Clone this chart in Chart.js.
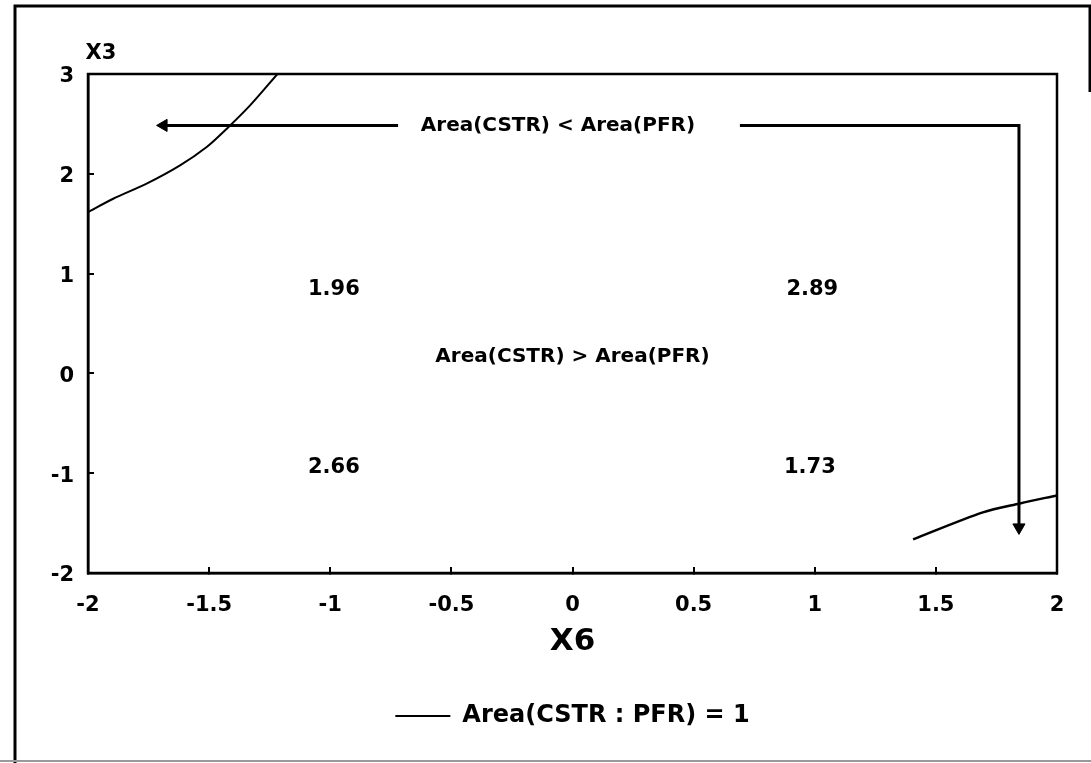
<!DOCTYPE html>
<html>
<head>
<meta charset="utf-8">
<title>Area(CSTR : PFR)</title>
<script src="https://cdn.jsdelivr.net/npm/chart.js@4.4.1/dist/chart.umd.min.js"></script>
<style>
	html, body { margin: 0; padding: 0; background: #fff; }
	canvas { display: block; }
</style>
</head>
<body>
<canvas id="chart" width="1091" height="763"></canvas>
<script>
// contour Area(CSTR : PFR) = 1, two branches
const curveAX = [-2, -1.896, -1.758, -1.62, -1.51, -1.427, -1.331, -1.218];
const curveAY = [1.616, 1.75, 1.901, 2.084, 2.268, 2.452, 2.685, 3.0];
const curveBX = [1.406, 1.694, 1.847, 2.0];
const curveBY = [-1.663, -1.393, -1.303, -1.222];

// annotation arrows
const arrowLeftX = [-0.72, -1.688];
const arrowLeftY = [2.485, 2.485];
const arrowRightX = [0.691, 1.843, 1.843];
const arrowRightY = [2.485, 2.485, -1.543];

// texts inside the plot
const noteText = ['Area(CSTR) < Area(PFR)', '1.96', '2.89', 'Area(CSTR) > Area(PFR)', '2.66', '1.73'];
const noteX = [-0.06, -0.985, 0.99, 0, -0.985, 0.98];
const noteY = [2.485, 0.842, 0.842, 0.17, -0.942, -0.942];
const noteSize = [20, 21, 21, 20, 21, 21];

const xTitle = 'X6';
const yTitle = 'X3';
const legendLabel = 'Area(CSTR : PFR) = 1';

const FONT = "'DejaVu Sans', 'Liberation Sans', sans-serif";

Chart.defaults.font.family = FONT;
Chart.defaults.font.weight = 'bold';
Chart.defaults.color = '#000';

function points(xs, ys) {
	return xs.map((x, i) => ({x: x, y: ys[i]}));
}

// page frame and white background
const framePlugin = {
	id: 'frame',
	beforeDraw(chart) {
		const ctx = chart.ctx;
		ctx.save();
		ctx.fillStyle = '#fff';
		ctx.fillRect(0, 0, chart.width, chart.height);
		ctx.strokeStyle = '#000';
		ctx.lineWidth = 3;
		ctx.beginPath();
		ctx.moveTo(15, chart.height);
		ctx.lineTo(15, 6);
		ctx.lineTo(1090, 6);
		ctx.lineTo(1090, 92);
		ctx.stroke();
		ctx.strokeStyle = '#999';
		ctx.lineWidth = 2;
		ctx.beginPath();
		ctx.moveTo(0, chart.height - 2);
		ctx.lineTo(chart.width, chart.height - 2);
		ctx.stroke();
		ctx.restore();
	},
};

// box round the plot, the notes and the y title
const notesPlugin = {
	id: 'notes',
	afterDatasetsDraw(chart) {
		const {ctx, chartArea} = chart;
		const xs = chart.scales.x;
		const ys = chart.scales.y;
		ctx.save();
		ctx.strokeStyle = '#000';
		ctx.lineWidth = 2.5;
		ctx.strokeRect(chartArea.left, chartArea.top, chartArea.right - chartArea.left, chartArea.bottom - chartArea.top);

		ctx.fillStyle = '#000';
		ctx.textAlign = 'center';
		ctx.textBaseline = 'middle';
		noteText.forEach((t, i) => {
			const px = xs.getPixelForValue(noteX[i]);
			const py = ys.getPixelForValue(noteY[i]);
			ctx.font = 'bold ' + noteSize[i] + 'px ' + FONT;
			ctx.fillText(t, px, py);
		});

		ctx.font = 'bold 21px ' + FONT;
		ctx.fillText(yTitle, chartArea.left + 13, chartArea.top - 20);
		ctx.restore();
	},
};

new Chart(document.getElementById('chart'), {
	type: 'line',
	data: {
		datasets: [
			{
				label: legendLabel,
				data: points(curveAX, curveAY),
				borderColor: '#000',
				borderWidth: 2,
				pointRadius: 0,
				tension: 0.3,
			},
			{
				label: 'curveB',
				data: points(curveBX, curveBY),
				borderColor: '#000',
				borderWidth: 2.5,
				pointRadius: 0,
				tension: 0.3,
			},
			{
				label: 'arrowLeft',
				data: points(arrowLeftX, arrowLeftY),
				borderColor: '#000',
				backgroundColor: '#000',
				borderWidth: 3,
				pointStyle: 'triangle',
				pointRadius: [0, 7],
				pointRotation: [0, -90],
				pointBorderWidth: 1,
			},
			{
				label: 'arrowRight',
				data: points(arrowRightX, arrowRightY),
				borderColor: '#000',
				backgroundColor: '#000',
				borderWidth: 3,
				pointStyle: 'triangle',
				pointRadius: [0, 0, 7],
				pointRotation: [0, 0, 180],
				pointBorderWidth: 1,
			},
		],
	},
	options: {
		responsive: false,
		animation: false,
		layout: {padding: {left: 28, right: 34, top: 74, bottom: 25}},
		scales: {
			x: {
				type: 'linear',
				min: -2,
				max: 2,
				afterFit(scale) { scale.height = 121; },
				grid: {drawOnChartArea: false, drawTicks: true, tickLength: -6, color: '#000', lineWidth: 2},
				border: {display: true, color: '#000', width: 2.5},
				ticks: {stepSize: 0.5, padding: 26, font: {size: 21, weight: 'bold'}, color: '#000', callback: (v) => String(v)},
				title: {display: true, text: xTitle, font: {size: 31, weight: 'bold'}, color: '#000', padding: {top: 0, bottom: 33}},
			},
			y: {
				type: 'linear',
				min: -2,
				max: 3,
				afterFit(scale) { scale.width = 60; },
				grid: {drawOnChartArea: false, drawTicks: true, tickLength: -6, color: '#000', lineWidth: 2},
				border: {display: true, color: '#000', width: 2.5},
				ticks: {stepSize: 1, padding: 20, labelOffset: 3, font: {size: 21, weight: 'bold'}, color: '#000', callback: (v) => String(v)},
			},
		},
		plugins: {
			legend: {
				position: 'bottom',
				fullSize: false,
				labels: {
					filter: (item) => item.text === legendLabel,
					usePointStyle: true,
					pointStyle: 'line',
					pointStyleWidth: 55,
					boxHeight: 24,
					padding: 10,
					font: {size: 24, weight: 'bold'},
					color: '#000',
				},
			},
			tooltip: {enabled: false},
		},
	},
	plugins: [framePlugin, notesPlugin],
});
</script>
</body>
</html>
